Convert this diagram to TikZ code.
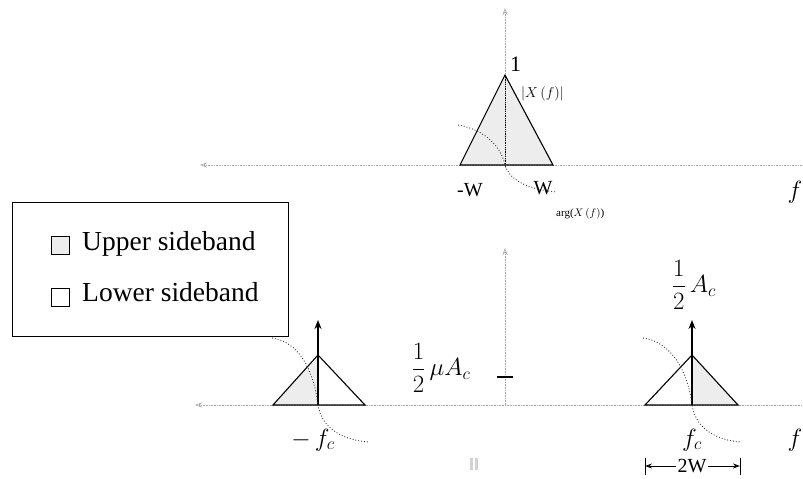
\documentclass[tikz,border=0pt]{standalone}
\usepackage{fontspec}
\setmainfont{Liberation Serif}
\usetikzlibrary{arrows.meta}
\begin{document}
\begin{tikzpicture}[x=1pt,y=-1pt,
  axis/.style={gray!70,line width=0.6pt,densely dotted},
  tri/.style={black,line width=1.1pt},
  usb/.style={fill=gray!14},
  phase/.style={gray!40!black,line width=0.9pt,dotted},
  spike/.style={black,line width=1.6pt,-{Stealth[length=9pt,width=7pt,open]}},
  lbl/.style={inner sep=0pt,font=\fontsize{20}{22}\selectfont}]
\useasboundingbox (0,0) rectangle (803,479);
% ---------- top spectrum ----------
\coordinate (tL) at (460,165); \coordinate (tR) at (553,165);
\coordinate (tA) at (505,75);  \coordinate (tO) at (505,165);
\fill[usb] (tL) -- (tA) -- (tR) -- cycle;
\draw[axis,{Stealth[length=7pt,width=5pt,open]}-] (200,165) coordinate (tax0) -- (803,165) coordinate (tax1);
\draw[axis,-{Stealth[length=7pt,width=5pt,open]}] (505,168) coordinate (tv0) -- (505,8) coordinate (tv1);
\draw[tri] (tL) -- (tA) -- (tR) -- cycle;
\draw[black,line width=0.8pt,densely dotted] (tA) -- (tO);
\draw[phase] (458,125) .. controls (488,130) and (502,150) .. (tO) .. controls (510,182) and (532,190) .. (557,192);
\node[lbl,anchor=south west,font=\fontsize{22}{24}\selectfont] (one) at (510,72) {1};
\node[inner sep=0pt,anchor=west,font=\fontsize{15}{16}\selectfont] (absX) at (521,94) {$|X\,(f)|$};
\node[lbl,anchor=base] (mW) at (470,196) {-W};
\node[lbl,anchor=base] (pW) at (543,194) {W};
\node[inner sep=0pt,anchor=base west,font=\fontsize{11}{12}\selectfont] (argX) at (556,216) {arg($X\,(f)$)};
\node[inner sep=0pt,font=\fontsize{26}{28}\selectfont] (ft) at (795,192) {$f$};
% ---------- legend ----------
\node[draw=black,line width=1pt,minimum width=276pt,minimum height=134pt,anchor=north west,inner sep=0pt] (leg) at (12,202) {};
\node[draw=black,line width=0.7pt,usb,minimum size=18pt,inner sep=0pt] (sq1) at (60,245) {};
\node[draw=black,line width=0.7pt,fill=white,minimum size=18pt,inner sep=0pt] (sq2) at (60,297) {};
\node[inner sep=0pt,anchor=west,font=\fontsize{27.5}{29}\selectfont] (u1) at (82,244) {Upper sideband};
\node[inner sep=0pt,anchor=west,font=\fontsize{27.5}{29}\selectfont] (u2) at (82,292) {Lower sideband};
% ---------- bottom spectrum ----------
\draw[axis,{Stealth[length=7pt,width=5pt,open]}-] (195,405) coordinate (bax0) -- (803,405) coordinate (bax1);
\draw[axis,-{Stealth[length=7pt,width=5pt,open]}] (505,405) coordinate (bv0) -- (505,248) coordinate (bv1);
\draw[black,line width=1.4pt] (497,377) coordinate (tk0) -- (513,377) coordinate (tk1);
\node[inner sep=0pt,font=\fontsize{26}{28}\selectfont] (muAc) at (441,368) {$\displaystyle\frac{1}{2}\,\mu A_c$};
% left (-fc)
\coordinate (lL) at (273,405); \coordinate (lR) at (365,405);
\coordinate (lA) at (318,355); \coordinate (lO) at (318,405);
\fill[usb] (lL) -- (lA) -- (lO) -- cycle;
\draw[tri] (lL) -- (lA) -- (lR) -- cycle;
\draw[spike] (lO) -- (318,320) coordinate (lT);
\draw[phase] (272,338) .. controls (300,342) and (314,372) .. (lO) .. controls (322,430) and (345,440) .. (368,442);
\node[inner sep=0pt,font=\fontsize{26}{28}\selectfont] (mfc) at (313,440) {$-\,f_c$};
% right (+fc)
\coordinate (rL) at (645,405); \coordinate (rR) at (738,405);
\coordinate (rA) at (692,355); \coordinate (rO) at (692,405);
\fill[usb] (rO) -- (rA) -- (rR) -- cycle;
\draw[tri] (rL) -- (rA) -- (rR) -- cycle;
\draw[spike] (rO) -- (692,320) coordinate (rT);
\draw[phase] (643,338) .. controls (672,342) and (688,372) .. (rO) .. controls (696,430) and (718,440) .. (740,442);
\node[inner sep=0pt,font=\fontsize{26}{28}\selectfont] (hAc) at (694,285) {$\displaystyle\frac{1}{2}\,A_c$};
\node[inner sep=0pt,font=\fontsize{26}{28}\selectfont] (pfc) at (692,440) {$f_c$};
\node[inner sep=0pt,font=\fontsize{26}{28}\selectfont] (fb) at (795,440) {$f$};
% 2W dimension
\coordinate (dL) at (645,466); \coordinate (dR) at (740,466);
\draw[black,line width=0.9pt] (645,458) -- (645,475);
\draw[black,line width=0.9pt] (740,458) -- (740,475);
\node[lbl,fill=white,inner sep=1pt] (twoW) at (692,466) {2W};
\draw[black,line width=0.8pt,-{Stealth[length=7pt,width=5pt,open]}] (twoW.west) -- (dL);
\draw[black,line width=0.8pt,-{Stealth[length=7pt,width=5pt,open]}] (twoW.east) -- (dR);
% scan marks
\fill[gray!35] (470,458) rectangle (472.5,470);
\fill[gray!35] (475,458) rectangle (477.5,470);
\end{tikzpicture}
\end{document}
